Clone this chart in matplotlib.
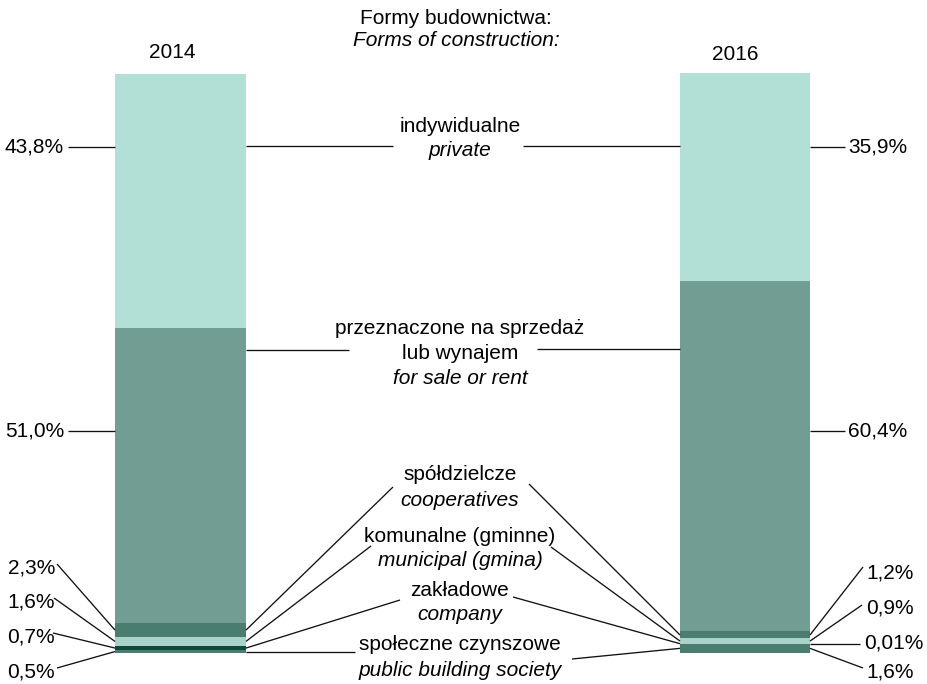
import matplotlib
matplotlib.use("Agg")
import matplotlib.pyplot as plt
import numpy as np

plt.rcParams['font.family'] = ['Liberation Sans', 'DejaVu Sans']

# ---- data ----
years = ["2014", "2016"]
categories = ["społeczne czynszowe", "zakładowe", "komunalne (gminne)",
              "spółdzielcze", "przeznaczone na sprzedaż lub wynajem", "indywidualne"]
values_2014 = [0.5, 0.7, 1.6, 2.3, 51.0, 43.8]
values_2016 = [1.6, 0.01, 0.9, 1.2, 60.4, 35.9]
labels_2014 = ["0,5%", "0,7%", "1,6%", "2,3%", "51,0%", "43,8%"]
labels_2016 = ["1,6%", "0,01%", "0,9%", "1,2%", "60,4%", "35,9%"]
mid_pl = ["społeczne czynszowe", "zakładowe", "komunalne (gminne)",
          "spółdzielcze", "przeznaczone na sprzedaż\nlub wynajem", "indywidualne"]
mid_en = ["public building society", "company", "municipal (gmina)",
          "cooperatives", "for sale or rent", "private"]

colors = ["#4b7d6f", "#0e4a3c", "#a9d3c9", "#4b7d6f", "#729d92", "#b3e0d6"]

W, H = 928, 684
fig = plt.figure(figsize=(W / 100, H / 100), dpi=100)

bar_top, bar_bot = 73, 653
ax = fig.add_axes([0, (H - bar_bot) / H, 1, (bar_bot - bar_top) / H])
ax.set_xlim(0, W)
ax.set_ylim(0, 100)
ax.axis('off')

x_2014, w_2014 = 180.5, 131
x_2016, w_2016 = 745, 130

def stack(vals, xc, w):
    cum = np.concatenate([[0], np.cumsum(vals)[:-1]])
    for v, b, c in zip(vals, cum, colors):
        ax.bar(xc, v, bottom=b, width=w, color=c, linewidth=0)
    return cum + np.array(vals) / 2.0

mids14 = stack(values_2014, x_2014, w_2014)
mids16 = stack(values_2016, x_2016, w_2016)

ov = fig.add_axes([0, 0, 1, 1])
ov.set_xlim(0, W)
ov.set_ylim(H, 0)
ov.axis('off')
ov.patch.set_alpha(0)

def to_pix(x, y):
    p = ax.transData.transform((x, y))
    return ov.transData.inverted().transform(p)

L14, R14 = x_2014 - w_2014 / 2, x_2014 + w_2014 / 2
L16, R16 = x_2016 - w_2016 / 2, x_2016 + w_2016 / 2

lk = dict(color="#111111", lw=0.95, solid_capstyle='butt')
fs = 15

def line(x0, y0, x1, y1):
    ov.plot([x0, x1], [y0, y1], **lk)

# titles
ov.text(456, 18, "Formy budownictwa:", ha='center', va='center', fontsize=fs)
ov.text(456, 40, "Forms of construction:", ha='center', va='center', fontsize=fs, style='italic')
ov.text(172.5, 52, years[0], ha='center', va='center', fontsize=fs)
ov.text(735.5, 55, years[1], ha='center', va='center', fontsize=fs)

# left labels 2014 (index order: bottom->top)
left_text_pos = [(55, 672), (55, 637), (55, 602), (55, 568), (64, 431), (64, 147)]
left_line_start = [(57, 668), (53, 633), (54, 598), (57, 564), (68, 431), (68, 147)]
for i in range(6):
    tx, ty = left_text_pos[i]
    ov.text(tx, ty, labels_2014[i], ha='right', va='center', fontsize=fs)
    _, yb = to_pix(L14, mids14[i])
    sx, sy = left_line_start[i]
    if i >= 4:
        line(sx, sy, L14, sy)
    else:
        line(sx, sy, L14, yb)

# right labels 2016
right_text_pos = [(866, 672), (864, 643), (866, 608), (866, 573), (848, 431), (848, 147)]
right_line_end = [(863, 668), (860, 643), (862, 605), (863, 567), (845, 431), (845, 147)]
for i in range(6):
    tx, ty = right_text_pos[i]
    ov.text(tx, ty, labels_2016[i], ha='left', va='center', fontsize=fs)
    _, yb = to_pix(R16, mids16[i])
    ex, ey = right_line_end[i]
    if i >= 4:
        line(R16, ey, ex, ey)
    elif i == 1:
        line(R16, yb, ex, yb)
    else:
        line(R16, yb, ex, ey)

# middle labels
mid_x = 460
mid_pl_y = [645, 590, 536, 475, 341, 127]
mid_en_y = [670, 614, 560, 500, 379, 151]
for i in range(6):
    ov.text(mid_x, mid_pl_y[i], mid_pl[i], ha='center', va='center', fontsize=fs,
            linespacing=1.45)
    ov.text(mid_x, mid_en_y[i], mid_en[i], ha='center', va='center', fontsize=fs,
            style='italic')

# middle leader lines (left end at 2014 bar, right end at 2016 bar)
mid_left_end = [(355, 652), (400, 600), (371, 546), (393, 487), (349, 350), (393, 146)]
mid_right_start = [(572, 659), (513, 597), (551, 547), (529, 484), (537, 349), (523, 146)]
for i in range(6):
    _, y14 = to_pix(R14, mids14[i])
    _, y16 = to_pix(L16, mids16[i])
    lx, ly = mid_left_end[i]
    rx, ry = mid_right_start[i]
    if i >= 4:
        line(R14, ly, lx, ly)
        line(rx, ry, L16, ry)
    elif i == 0:
        line(R14, y14, lx, y14)
        line(rx, ry, L16, y16)
    else:
        line(R14, y14, lx, ly)
        line(rx, ry, L16, y16)

fig.savefig("out.png", dpi=100)
